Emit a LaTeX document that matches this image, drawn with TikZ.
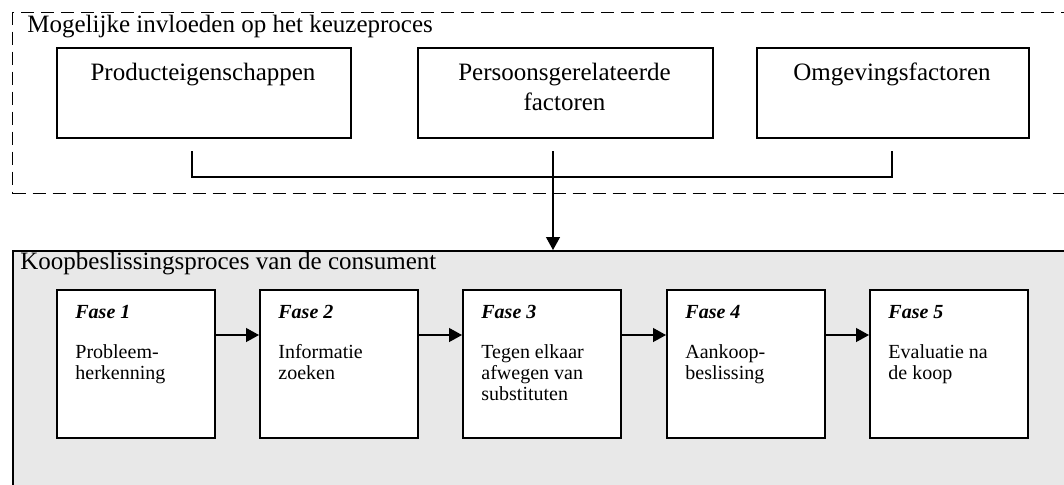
\documentclass[tikz,border=0pt]{standalone}
\usepackage{fontspec}
\setmainfont{Liberation Serif}
\usetikzlibrary{arrows.meta}
\definecolor{panelgrey}{HTML}{E8E8E8}
\newcommand{\leftstack}[1]{\vtop{\def\\{\cr}\halign{##\hfil\cr#1\crcr}}}
\newcommand{\centerstack}[1]{\vtop{\def\\{\cr}\halign{\hfil##\hfil\cr#1\crcr}}}
\begin{document}
\begin{tikzpicture}[x=0.5pt,y=-0.5pt,
  bigtxt/.style={font=\fontsize{12.5}{15}\selectfont, inner sep=0pt},
  fasetitle/.style={font=\fontsize{10}{10.5}\selectfont\bfseries\itshape, inner sep=0pt, anchor=base west},
  fasebody/.style={font=\fontsize{10}{10.5}\selectfont, inner sep=0pt, anchor=base west},
  topbox/.style={draw, line width=0.75pt, anchor=north west, minimum height=45pt, inner sep=0pt},
  fasebox/.style={draw, fill=white, line width=0.9pt, anchor=north west, minimum width=79pt, minimum height=74pt, inner sep=0pt},
  conn/.style={line width=0.6pt},
  arr/.style={line width=0.6pt, -{Triangle[length=6.5pt,width=7pt]}},
]
\clip (0,0) rectangle (1064,484);
\fill[white] (0,0) rectangle (1064,484);

% outer regions
\node[draw, dash pattern=on 6.5pt off 3.5pt, line width=0.6pt, anchor=north west,
      minimum width=540pt, minimum height=90.5pt, inner sep=0pt] (infl) at (12,12) {};
\node[draw, fill=panelgrey, line width=0.8pt, anchor=north west,
      minimum width=540pt, minimum height=140pt, inner sep=0pt] (proc) at (12,250) {};

\node[bigtxt, anchor=base west] (inflt) at (27,32) {Mogelijke invloeden op het keuzeproces};
\node[bigtxt, anchor=base west] (proct) at (20,269) {Koopbeslissingsproces van de consument};

% influence boxes
\node[topbox, minimum width=147pt] (p1) at (56,47) {};
\node[topbox, minimum width=147.5pt] (p2) at (417,47) {};
\node[topbox, minimum width=136pt] (p3) at (756,47) {};
\node[bigtxt, anchor=base] (p1t) at (203,80) {Producteigenschappen};
\node[bigtxt, anchor=base] (p2t) at (564.5,80) {\centerstack{Persoonsgerelateerde\\factoren}};
\node[bigtxt, anchor=base] (p3t) at (892,80) {Omgevingsfactoren};

% connector
\coordinate (t1) at (192,151);
\coordinate (b1) at (192,177);
\coordinate (t2) at (553,151);
\coordinate (b2) at (553,177);
\coordinate (t3) at (892,151);
\coordinate (b3) at (892,177);
\draw[conn] (t1) -- (b1) -- (b3) -- (t3);
\draw[arr] (t2) -- (b2 |- proc.north);

% phases
\foreach \i/\x/\body in {1/56/{Probleem-\\herkenning},
                         2/259/{Informatie\\zoeken},
                         3/462/{Tegen elkaar\\afwegen van\\substituten},
                         4/666/{Aankoop-\\beslissing},
                         5/869/{Evaluatie na\\de koop}}{
  \node[fasebox] (f\i) at (\x,289) {};
  \node[fasetitle] (f\i t) at (\x+19,318) {Fase \i};
  \node[fasebody] (f\i b) at (\x+19,358) {\leftstack{\body}};
}
\foreach \a/\b in {1/2,2/3,3/4,4/5}
  \draw[arr] ([yshift=-23pt]f\a.north east) -- ([yshift=-23pt]f\b.north west);
\end{tikzpicture}
\end{document}
